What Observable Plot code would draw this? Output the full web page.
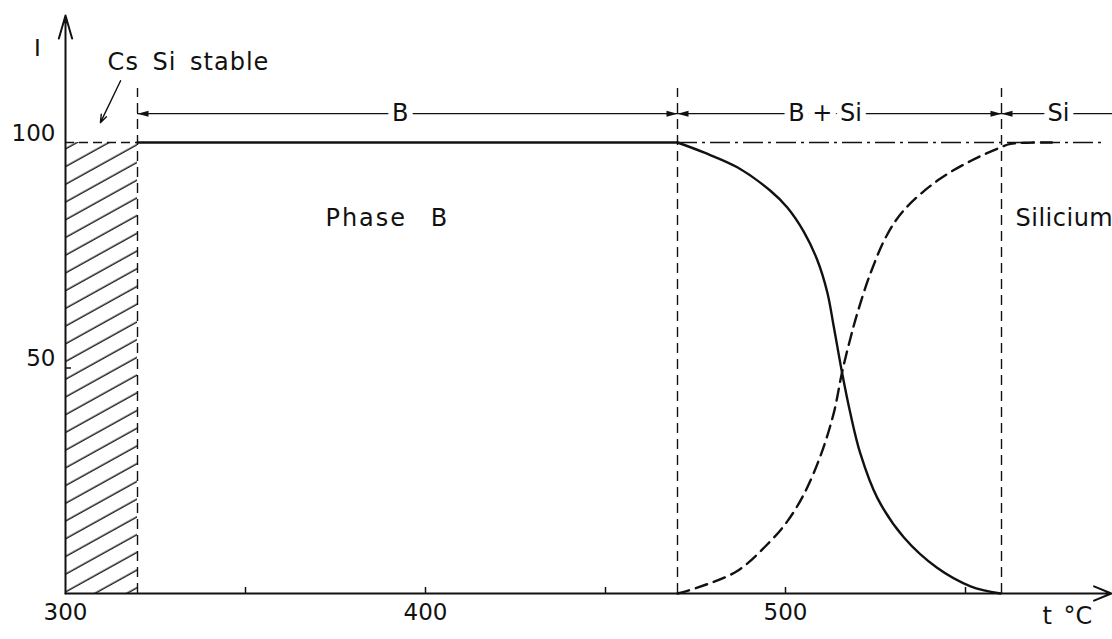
<!DOCTYPE html>
<html><head><meta charset="utf-8">
<script src="https://cdn.jsdelivr.net/npm/d3@7"></script>
<script src="https://cdn.jsdelivr.net/npm/@observablehq/plot@0.6"></script>
<style>body{margin:0;background:#fff}</style>
</head><body><div id="chart"></div>
<script>
// Phase B intensity (solid curve)
const tempB = [320, 470, 477.3, 486.6, 495.8, 500.5, 505.1, 508.8, 511.6, 513.4, 515.7, 518, 520.8, 525.5, 532.9, 542.1, 551.4, 559.7];
const intensityB = [100, 100, 97.8, 94.5, 89.3, 85.6, 80.2, 74.0, 66.8, 59.2, 49, 40, 31, 21.2, 12.4, 5.7, 1.6, 0];
// Silicium intensity (dashed curve)
const tempSi = [470, 475.5, 486.6, 495.8, 500.5, 505.1, 509.7, 513.4, 515.7, 518, 519.9, 523.6, 528.2, 532.9, 542.1, 551.4, 559.7, 562.5, 574];
const intensitySi = [0, 1.3, 5.0, 11.6, 16.0, 22.0, 30.5, 40.0, 49.0, 56.5, 62.0, 71.0, 79.5, 85.0, 91.5, 95.9, 98.9, 99.7, 100];
// phase ranges
const phaseNames = ["B", "B + Si", "Si"];
const phaseStart = [320, 470, 560];
const phaseEnd = [470, 560, 590];
const phaseLabelX = [393, 511, 575.8];
const boundaries = [320, 470, 560];
const stableRange = [300, 320];
const fullIntensity = 100;
// axis ticks
const xTickValues = [350, 400, 450, 500, 550];
const xLabelValues = [300, 400, 500];
const yTickValues = [50];
const yLabelValues = [50, 100];
// annotation texts
const startTexts = ["Cs Si stable", "Phase B", "Silicium", "t °C"];
const startX = [311.7, 372.2, 563.9, 571.4];
const startY = [117.7, 83.1, 83.1, -5.1];
const axisTitle = ["I"];
const axisTitleX = [292.2];
const axisTitleY = [120.8];

const ink = "#111";
const B = tempB.map((t, i) => ({t, v: intensityB[i]}));
const Si = tempSi.map((t, i) => ({t, v: intensitySi[i]}));
const bPlateau = B.filter(d => d.v === fullIntensity);
const bFall = B.filter(d => d.t >= bPlateau[bPlateau.length - 1].t);
const phases = phaseNames.map((name, i) => ({name, x1: phaseStart[i], x2: phaseEnd[i], lx: phaseLabelX[i]}));
const heads = [];
phases.forEach((p, i) => {
  heads.push({x: p.x1, rot: 180});
  if (i < phases.length - 1) heads.push({x: p.x2, rot: 0});
});
const notes = startTexts.map((text, i) => ({text, x: startX[i], y: startY[i]}));
const titles = axisTitle.map((text, i) => ({text, x: axisTitleX[i], y: axisTitleY[i]}));
const annY = 106.4;
const xMax = 590.83, yMax = 128.16;

const arrowHead = {draw(ctx) { ctx.moveTo(0, 0); ctx.lineTo(-11, -3); ctx.lineTo(-11, 3); ctx.closePath(); }};

const svg = Plot.plot({
  width: 1112, height: 639,
  marginLeft: 65, marginRight: 0, marginTop: 15, marginBottom: 46,
  x: {domain: [300, xMax]},
  y: {domain: [0, yMax]},
  style: {fontFamily: "'DejaVu Sans', sans-serif", fontSize: "22px", color: ink, background: "#fff"},
  marks: [
    Plot.rect([{x1: stableRange[0], x2: stableRange[1], y1: 0, y2: fullIntensity}], {x1: "x1", x2: "x2", y1: "y1", y2: "y2", fill: "url(#hatch)"}),
    Plot.ruleY([fullIntensity], {x1: stableRange[0], x2: stableRange[1], stroke: ink, strokeWidth: 1.5, strokeDasharray: "9,5"}),
    Plot.ruleY([fullIntensity], {x1: 470, x2: 588, stroke: ink, strokeWidth: 1.4, strokeDasharray: "20,5,3,5"}),
    Plot.ruleX(boundaries, {y1: 0, y2: 112, stroke: ink, strokeWidth: 1.4, strokeDasharray: "10,6"}),
    Plot.ruleY([annY], {x1: phaseStart[0], x2: xMax, stroke: ink, strokeWidth: 1.1}),
    Plot.dot(heads, {x: "x", y: annY, symbol: arrowHead, r: 4, rotate: "rot", fill: ink, stroke: "none"}),
    Plot.text(phases, {x: "lx", y: annY, text: "name", fontSize: 24, fill: ink, stroke: "white", strokeWidth: 12, paintOrder: "stroke"}),
    Plot.line(bPlateau, {x: "t", y: "v", stroke: ink, strokeWidth: 2.4}),
    Plot.line(bFall, {x: "t", y: "v", curve: "catmull-rom", stroke: ink, strokeWidth: 2.4}),
    Plot.line(Si, {x: "t", y: "v", curve: "catmull-rom", stroke: ink, strokeWidth: 2.4, strokeDasharray: "12,7"}),
    Plot.ruleX(xTickValues, {y1: 0, y2: 0, insetTop: -6, stroke: ink, strokeWidth: 1.5}),
    Plot.ruleY(yTickValues, {x1: 300, x2: 300, insetRight: -6, stroke: ink, strokeWidth: 1.5}),
    Plot.arrow([{x1: 300, y1: 0, x2: 300, y2: yMax}], {x1: "x1", y1: "y1", x2: "x2", y2: "y2", stroke: ink, strokeWidth: 2, headLength: 18, headAngle: 32}),
    Plot.arrow([{x1: 300, y1: 0, x2: 590.5, y2: 0}], {x1: "x1", y1: "y1", x2: "x2", y2: "y2", stroke: ink, strokeWidth: 2, headLength: 14, headAngle: 45}),
    Plot.arrow([{x1: 315.3, y1: 113.7, x2: 309.7, y2: 104.4}], {x1: "x1", y1: "y1", x2: "x2", y2: "y2", stroke: ink, strokeWidth: 1.4, headLength: 9, headAngle: 40}),
    Plot.axisX({ticks: xLabelValues, tickSize: 0, tickPadding: 10, label: null, fontSize: 23}),
    Plot.axisY({ticks: yLabelValues, tickSize: 0, tickPadding: 10, label: null, fontSize: 23, dy: -9}),
    Plot.text(titles, {x: "x", y: "y", text: "text", fontSize: 23, fill: ink}),
    Plot.text(notes, {x: "x", y: "y", text: "text", textAnchor: "start", fontSize: 24, fill: ink})
  ]
});

const s = d3.select(svg);
const defs = s.insert("defs", ":first-child");
const pat = defs.append("pattern").attr("id", "hatch").attr("patternUnits", "userSpaceOnUse")
  .attr("width", 20).attr("height", 15.5).attr("patternTransform", "rotate(-29)");
pat.append("line").attr("x1", 0).attr("x2", 20).attr("y1", 7).attr("y2", 7).attr("stroke", ink).attr("stroke-width", 1.4);
const spacing = {"Phase B": ["2px", "14px"], "Cs Si stable": ["1px", "5px"], "Silicium": ["0.5px", "0px"], "t °C": ["0px", "4px"]};
s.selectAll("text").each(function() {
  const sp = spacing[this.textContent];
  if (sp) d3.select(this).style("letter-spacing", sp[0]).style("word-spacing", sp[1]);
});
document.getElementById("chart").appendChild(svg);
</script>
</body></html>
